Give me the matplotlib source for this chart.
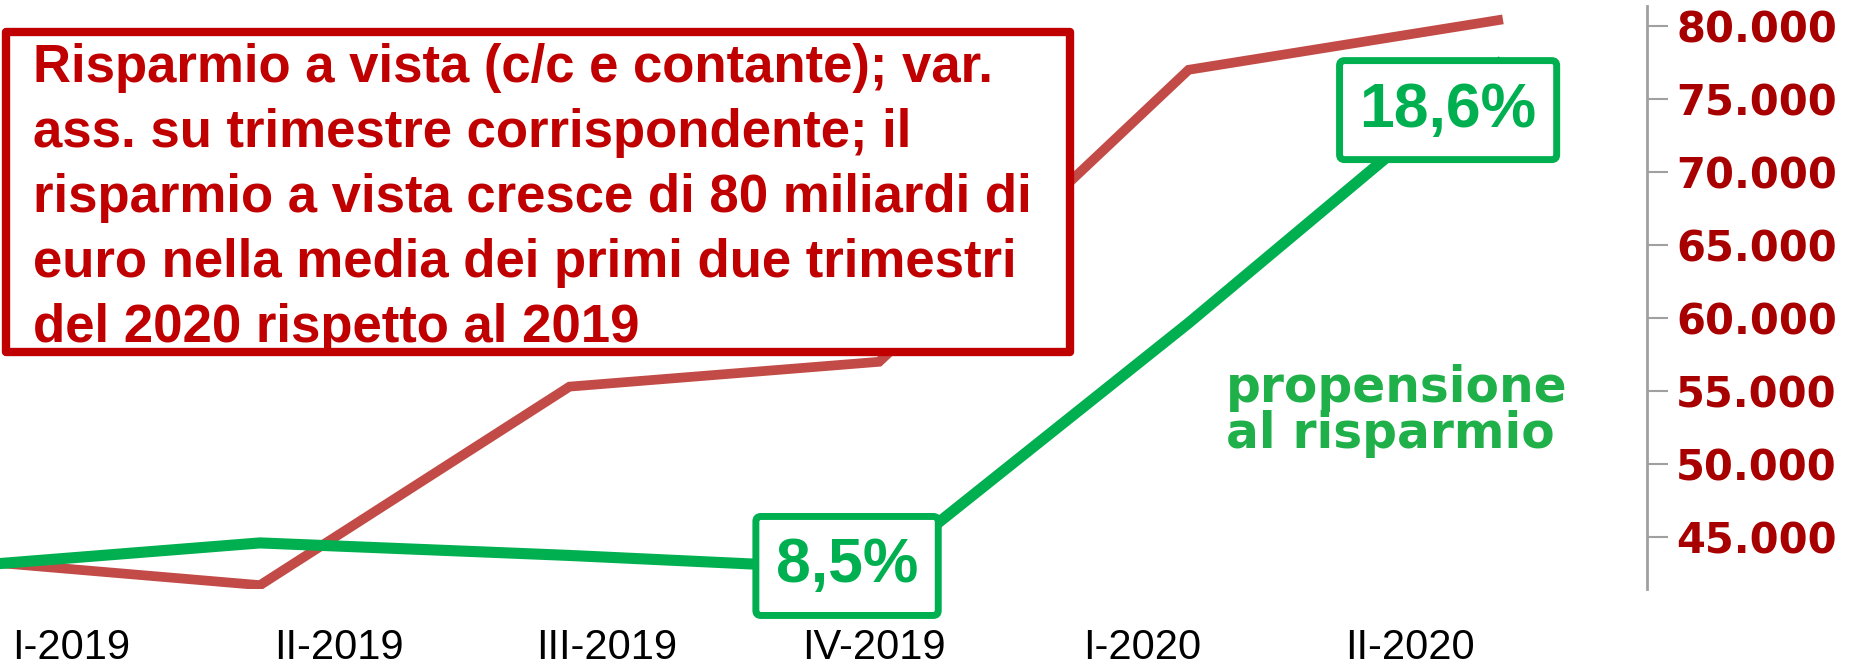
import matplotlib
matplotlib.use('Agg')

import matplotlib.pyplot as plt
import matplotlib.patches as mpatches
import matplotlib.ticker as ticker
import numpy as np

# data
quarters   = ["I-2019", "II-2019", "III-2019", "IV-2019", "I-2020", "II-2020"]
risp_vista = [43500, 41700, 55300, 57000, 77000, 80400]    # var. ass., mln euro
propens    = [8.55, 9.04, 8.79, 8.5, 13.43, 18.6]            # %
red_ticks  = [45000, 50000, 55000, 60000, 65000, 70000, 75000, 80000]
box_text   = ("Risparmio a vista (c/c e contante); var.\n"
              "ass. su trimestre corrispondente; il\n"
              "risparmio a vista cresce di 80 miliardi di\n"
              "euro nella media dei primi due trimestri\n"
              "del 2020 rispetto al 2019")
prop_label = "propensione\nal risparmio"

RED_LINE  = "#c24b47"
RED_TEXT  = "#c00000"
RED_TICK  = "#a80000"
GREEN     = "#00b050"
GREEN_TXT = "#1fb04a"

W, H = 1864, 671
fig = plt.figure(figsize=(W / 100, H / 100), dpi=100)
fig.patch.set_facecolor("white")

ax = fig.add_axes([0.0, (H - 589) / H, 1647 / W, (589 - 6) / H])
ax2 = ax.twinx()

x = np.arange(len(quarters))
ax.plot(x, risp_vista, color=RED_LINE, linewidth=7, solid_joinstyle="miter", zorder=2)
ax2.plot(x, propens, color=GREEN, linewidth=8, solid_joinstyle="miter", zorder=2)

ax.set_ylim(41438, 81370)
ax2.set_ylim(8.12, 19.76)

# red axis on the right
ax.yaxis.tick_right()
ax.set_yticks(red_ticks)
ax.yaxis.set_major_formatter(ticker.FuncFormatter(lambda v, _: f"{v:,.0f}".replace(",", ".")))
ax.tick_params(axis="y", colors="#a0a0a0", length=15, width=1.5, pad=6)
for lbl in ax.get_yticklabels():
    lbl.set_color(RED_TICK)
    lbl.set_fontfamily("DejaVu Sans")
    lbl.set_fontweight("bold")
    lbl.set_fontsize(30)

for s in ["top", "left", "bottom"]:
    ax.spines[s].set_visible(False)
    ax2.spines[s].set_visible(False)
ax.spines["right"].set_color("#a0a0a0")
ax.spines["right"].set_linewidth(2)
ax2.spines["right"].set_visible(False)
ax2.set_yticks([])

# quarter labels
label_pos = 0.39 + 0.865 * np.arange(len(quarters))
ax.set_xticks(label_pos, quarters)
# first quarter sits just outside the left edge, as in the original
ax.set_xlim(0.16, 5.481)
ax.tick_params(axis="x", length=0, pad=28)
for lbl in ax.get_xticklabels():
    lbl.set_fontfamily("Liberation Sans")
    lbl.set_fontsize(30)
    lbl.set_color("black")

# value boxes on the green line
def fmt_pct(v):
    return f"{v:.1f}".replace(".", ",") + "%"

green_box = dict(boxstyle="round,pad=0.32,rounding_size=0.08", facecolor="white",
                 edgecolor=GREEN, linewidth=5)
ax2.annotate(fmt_pct(propens[3]), xy=(x[3], propens[3]), xytext=(-32, 4),
             textcoords="offset pixels", ha="center", va="center",
             fontsize=45, fontweight="bold", family="Liberation Sans",
             color=GREEN, bbox=green_box, zorder=5)
ax2.annotate(fmt_pct(propens[5]), xy=(x[5], propens[5]), xytext=(-50, -46),
             textcoords="offset pixels", ha="center", va="center",
             fontsize=45, fontweight="bold", family="Liberation Sans",
             color=GREEN, bbox=green_box, zorder=5)

fig.text(1397 / W, 1 - 411 / H, prop_label, ha="center", va="center",
         multialignment="left", fontsize=35, fontweight="bold",
         family="DejaVu Sans", color=GREEN_TXT, linespacing=0.93)

# explanation box
box = mpatches.Rectangle((6 / W, 1 - 352 / H), 1064 / W, 320 / H,
                         transform=fig.transFigure, facecolor="white",
                         edgecolor=RED_TEXT, linewidth=6, joinstyle="round", zorder=9)
fig.add_artist(box)
fig.text(33 / W, 1 - 198 / H, box_text, ha="left", va="center",
         fontsize=38, fontweight="bold", family="Liberation Sans",
         color=RED_TEXT, linespacing=1.39, zorder=10)

plt.savefig("out.png", dpi=100, facecolor="white")
plt.close("all")
